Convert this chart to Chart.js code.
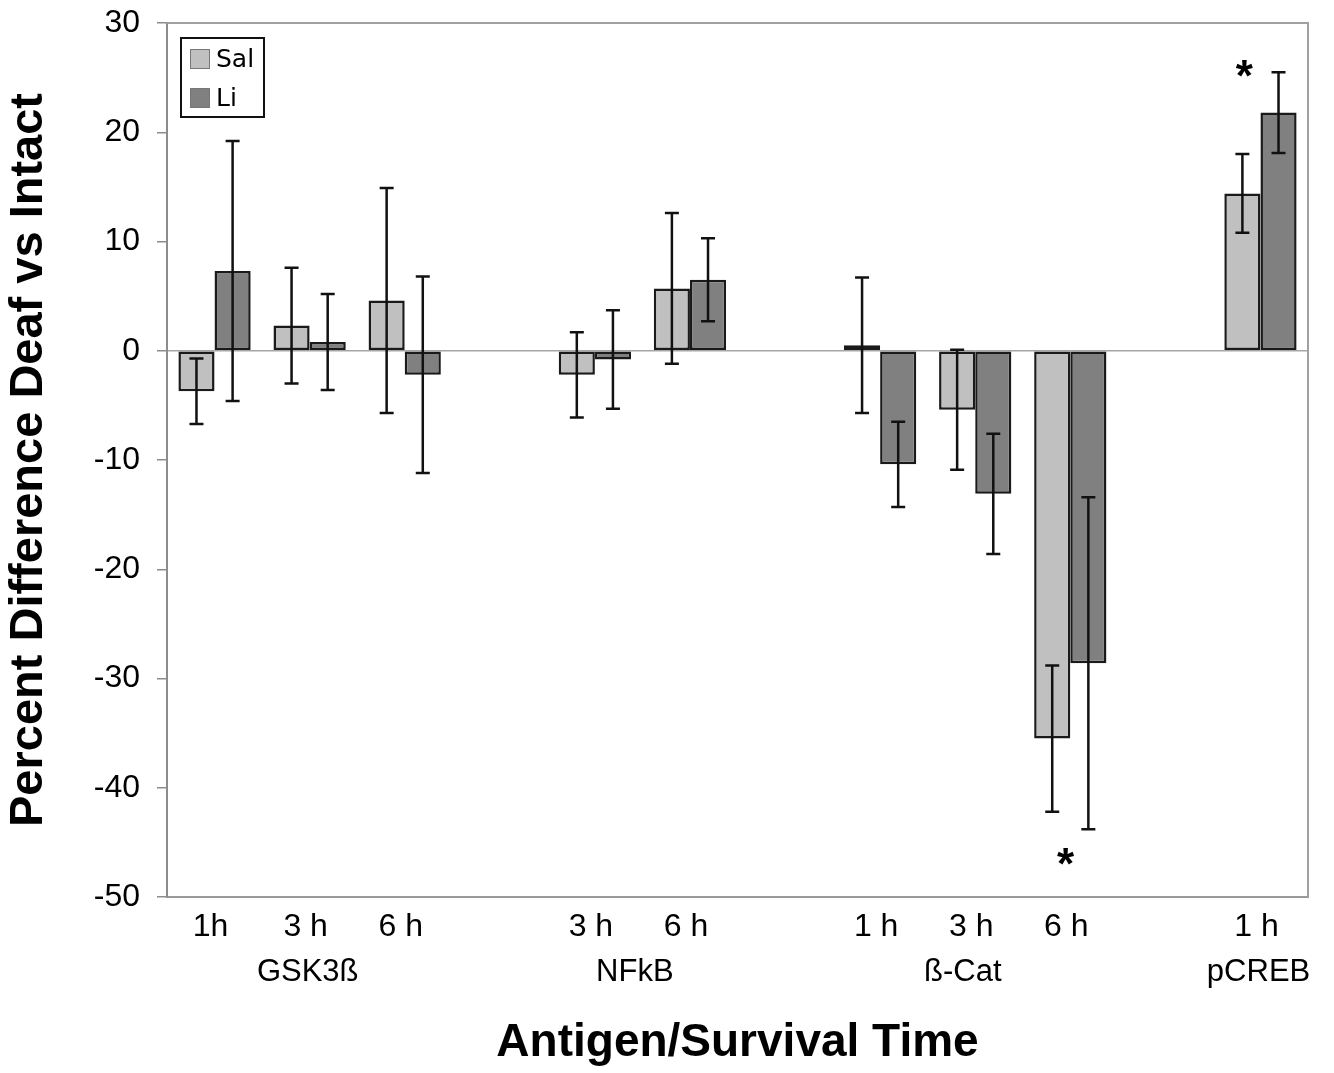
<!DOCTYPE html>
<html>
<head>
<meta charset="utf-8">
<script src="https://cdn.jsdelivr.net/npm/chart.js@4.4.1/dist/chart.umd.min.js"></script>
<style>
    html, body { margin: 0; padding: 0; background: #fff; }
    #wrapper { width: 1334px; height: 1073px; }
</style>
</head>
<body>
<div id="wrapper"><canvas id="graficaBarras"></canvas></div>
<script>
/* Percent difference Deaf vs Intact - grouped bars with error bars */

// DATA
const tiempos = ['1h', '3 h', '6 h', '', '3 h', '6 h', '', '1 h', '3 h', '6 h', '', '1 h'];
const antigenos = ['GSK3ß', 'NFkB', 'ß-Cat', 'pCREB'];
const antigenoPos = [0.98, 4.42, 7.87, 10.98]; // category value under which each antigen name sits

const salValores = [-3.7, 2.3, 4.6, null, -2.2, 5.7, null, 0.5, -5.4, -35.5, null, 14.4];
const liValores  = [7.3, 0.8, -2.2, null, -0.8, 6.5, null, -10.4, -13.1, -28.6, null, 21.8];
const salError   = [3.0, 5.3, 10.3, null, 3.9, 6.9, null, 6.2, 5.5, 6.7, null, 3.6];
const liError    = [11.9, 4.4, 9.0, null, 4.5, 3.8, null, 3.9, 5.5, 15.2, null, 3.7];

// significance marks: category value and y value
const estrellaCat = [9 - 0.05, 11 - 0.17];
const estrellaVal = [-46.0, 26.2];

const yTicks = [30, 20, 10, 0, -10, -20, -30, -40, -50];

const FUENTE = "'Liberation Sans', Arial, sans-serif";

// PLUGINS
const errorBars = {
    id: 'errorBars',
    afterDatasetsDraw(chart) {
        const ctx = chart.ctx;
        const y = chart.scales.y;
        chart.data.datasets.forEach((ds, i) => {
            const meta = chart.getDatasetMeta(i);
            meta.data.forEach((bar, j) => {
                const v = ds.data[j], e = ds.errores[j];
                if (v === null || e === null) return;
                const yTop = y.getPixelForValue(v + e);
                const yBot = y.getPixelForValue(v - e);
                ctx.save();
                ctx.strokeStyle = '#111';
                ctx.lineWidth = 2.5;
                ctx.beginPath();
                ctx.moveTo(bar.x, yTop); ctx.lineTo(bar.x, yBot);
                ctx.moveTo(bar.x - 7, yTop); ctx.lineTo(bar.x + 7, yTop);
                ctx.moveTo(bar.x - 7, yBot); ctx.lineTo(bar.x + 7, yBot);
                ctx.stroke();
                ctx.restore();
            });
        });
    }
};

const marco = {
    id: 'marco',
    beforeDatasetsDraw(chart) {
        const { ctx, chartArea: a } = chart;
        ctx.save();
        ctx.strokeStyle = '#a0a0a0';
        ctx.lineWidth = 2;
        ctx.beginPath();
        ctx.moveTo(a.left, a.top); ctx.lineTo(a.right, a.top); ctx.lineTo(a.right, a.bottom);
        ctx.stroke();
        ctx.restore();
    }
};

const extras = {
    id: 'extras',
    afterDraw(chart) {
        const { ctx, scales: { x, y } } = chart;
        ctx.save();

        // antigen names under the time labels
        ctx.fillStyle = '#000';
        ctx.font = `31px ${FUENTE}`;
        ctx.textAlign = 'center';
        ctx.textBaseline = 'middle';
        antigenos.forEach((nombre, i) => {
            const px = x.getPixelForValue(antigenoPos[i]);
            ctx.fillText(nombre, px, 972);
        });

        // asterisks
        ctx.font = `bold 44px ${FUENTE}`;
        ctx.textBaseline = 'alphabetic';
        estrellaCat.forEach((c, i) => {
            ctx.fillText('*', x.getPixelForValue(c), y.getPixelForValue(estrellaVal[i]) + 26);
        });

        // legend box inside the plot
        const lx = 181, ly = 38, lw = 83, lh = 79;
        ctx.fillStyle = '#fff';
        ctx.fillRect(lx, ly, lw, lh);
        ctx.strokeStyle = '#111';
        ctx.lineWidth = 2;
        ctx.strokeRect(lx, ly, lw, lh);
        ctx.font = "25px 'DejaVu Sans', sans-serif";
        ctx.textAlign = 'left';
        ctx.textBaseline = 'middle';
        chart.data.datasets.forEach((ds, i) => {
            const cy = 59 + i * 39;
            ctx.fillStyle = ds.backgroundColor;
            ctx.fillRect(190, cy - 10, 20, 20);
            ctx.strokeStyle = '#777';
            ctx.lineWidth = 1;
            ctx.strokeRect(190.5, cy - 9.5, 19, 19);
            ctx.fillStyle = '#000';
            ctx.fillText(ds.label, 216, cy + 1);
        });
        ctx.restore();
    }
};

// CHART
const ctxBarras = document.getElementById('graficaBarras').getContext('2d');
const chartBarras = new Chart(ctxBarras, {
    type: 'bar',
    data: {
        labels: tiempos,
        datasets: [
            { label: 'Sal', data: salValores, errores: salError, backgroundColor: '#c0c0c0', borderColor: '#1a1a1a', borderWidth: 2.5, borderSkipped: false },
            { label: 'Li', data: liValores, errores: liError, backgroundColor: '#808080', borderColor: '#1a1a1a', borderWidth: 2.5, borderSkipped: false }
        ]
    },
    options: {
        responsive: true,
        maintainAspectRatio: false,
        animation: false,
        categoryPercentage: 0.76,
        barPercentage: 1.0,
        layout: { padding: { top: 23, right: 26, left: 0, bottom: 0 } },
        plugins: { legend: { display: false }, tooltip: { enabled: false } },
        scales: {
            x: {
                ticks: { color: '#000', font: { family: FUENTE, size: 32 }, padding: 11, labelOffset: -4, autoSkip: false, maxRotation: 0 },
                grid: { display: false, drawTicks: false },
                border: { color: '#999', width: 2 },
                title: { display: true, text: 'Antigen/Survival Time', color: '#000', font: { family: FUENTE, size: 46, weight: 'bold' }, padding: { top: 0, bottom: 2 } },
                afterFit: s => { s.height = 176; }
            },
            y: {
                min: -50,
                max: 30,
                afterBuildTicks: s => { s.ticks = yTicks.map(v => ({ value: v })); },
                ticks: { color: '#000', font: { family: FUENTE, size: 32 }, padding: 17 },
                grid: {
                    color: c => (c.tick && c.tick.value === 0) ? '#a6a6a6' : 'rgba(0,0,0,0)',
                    tickColor: '#8c8c8c',
                    tickLength: 10,
                    lineWidth: 1.5
                },
                border: { color: '#8c8c8c', width: 2 },
                title: { display: true, text: 'Percent Difference Deaf vs Intact', color: '#000', font: { family: FUENTE, size: 47, weight: 'bold' }, padding: { top: 1, bottom: 0 } },
                afterFit: s => { s.width = 167; s.paddingTop = 0; s.paddingBottom = 0; }
            }
        }
    },
    plugins: [marco, errorBars, extras]
});
</script>
</body>
</html>
